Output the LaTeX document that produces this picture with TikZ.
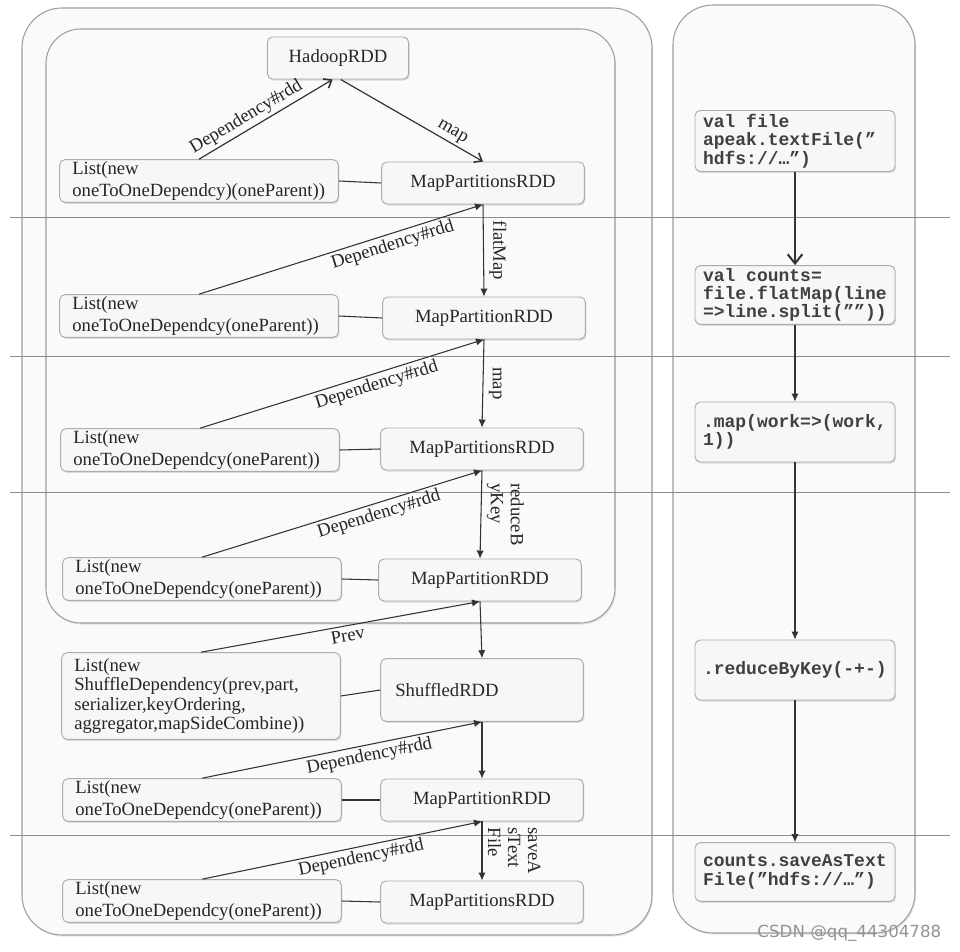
\documentclass[tikz,border=0pt]{standalone}
\usepackage{fontspec}
\setmainfont{Liberation Serif}
\setmonofont{Liberation Mono}
\newfontfamily\wmfont{DejaVu Sans}
\usepackage{tikz}
\usetikzlibrary{arrows.meta,shadows}
\newcommand{\tsp}{\hphantom{x}}

\begin{document}
\begin{tikzpicture}[x=0.75pt, y=-0.75pt,
    wrap/.style={draw=gray!75, fill=gray!4, line width=0.8pt, drop shadow={shadow xshift=0.8pt, shadow yshift=-1.2pt, opacity=0.2}},
    sep/.style={draw=gray!90, line width=0.6pt},
    box/.style={draw=gray!65, fill=gray!6, text=black!85, rounded corners=4pt, line width=0.7pt, drop shadow={shadow xshift=0.8pt, shadow yshift=-1.2pt, opacity=0.25}},
    lst/.style={box, text width=190pt, inner xsep=9.5pt, inner ysep=1.5pt, minimum height=32pt, align=left, font=\fontsize{14}{16}\selectfont},
    rdd/.style={box, minimum width=152pt, minimum height=31.5pt, font=\fontsize{14}{16}\selectfont},
    code/.style={box, text=black!75, text width=138pt, inner xsep=6pt, inner ysep=2pt, align=left, font=\fontsize{13.5}{13.75}\selectfont\ttfamily\bfseries},
    dep/.style={-{Latex[length=6pt,width=5.5pt]}, draw=black!80, line width=0.8pt},
    vdep/.style={-{Straight Barb[length=5pt,width=8pt,line width=1.2pt]}, draw=black!80, line width=0.9pt},
    lbl/.style={font=\fontsize{14}{15}\selectfont, text=black!85, inner sep=2pt},
    rot/.style={lbl, rotate=-90, anchor=south, align=left, inner sep=4pt}]
  \useasboundingbox (0,0) rectangle (960,952);
  \fill[white] (0,0) rectangle (960,952);

  \draw[wrap, rounded corners=30pt] (22,8) rectangle (652,935);
  \draw[wrap, rounded corners=26pt] (46,29) rectangle (615,623);
  \draw[wrap, rounded corners=30pt] (673,5) rectangle (915,933);
  \foreach \y in {217,356,492,835}
    \draw[sep] (10,\y) -- (950,\y);

  \node[rdd, minimum width=106pt] (h) at (338,58) {HadoopRDD};
  \node[lst] (l1) at (199,181) {List(new\\oneToOneDependcy)(oneParent))};
  \node[rdd] (m1) at (483,183) {MapPartitionsRDD};
  \node[lst] (l2) at (199,316) {List(new\\oneToOneDependcy(oneParent))};
  \node[rdd] (m2) at (484,318) {MapPartitionRDD};
  \node[lst] (l3) at (200,450) {List(new\\oneToOneDependcy(oneParent))};
  \node[rdd] (m3) at (482,449) {MapPartitionsRDD};
  \node[lst] (l4) at (202,579) {List(new\\oneToOneDependcy(oneParent))};
  \node[rdd] (m4) at (480,580) {MapPartitionRDD};
  \node[lst, minimum height=65pt, font=\fontsize{14}{14.5}\selectfont] (l5) at (201,696)
    {List(new\\ShuffleDependency(prev,part,\\serializer,keyOrdering,\\aggregator,mapSideCombine))};
  \node[rdd, text width=130pt, inner xsep=11pt, align=left, minimum height=47pt] (s) at (482,690) {ShuffledRDD};
  \node[lst] (l6) at (202,800) {List(new\\oneToOneDependcy(oneParent))};
  \node[rdd] (m6) at (482,800) {MapPartitionRDD};
  \node[lst] (l7) at (202,901) {List(new\\oneToOneDependcy(oneParent))};
  \node[rdd] (m7) at (482,902) {MapPartitionsRDD};

  \node[code, minimum height=45.75pt] (c1) at (795,141) {val\tsp file\\apeak.textFile(”\\hdfs://…”)};
  \node[code, minimum height=42pt] (c2) at (795,295) {val\tsp counts=\\file.flatMap(line\\=>line.split(””))};
  \node[code, minimum height=45pt] (c3) at (795,432) {.map(work=>(work,\\1))};
  \node[code, minimum height=45pt] (c4) at (795,670) {.reduceByKey(-+-)};
  \node[code, minimum height=44pt] (c5) at (795,872) {counts.saveAsText\\File(”hdfs://…”)};

  \draw[vdep] (l1.north) -- node[lbl, above, sloped, pos=0.4] {Dependency\#rdd} ([xshift=-4pt]h.south);
  \draw[vdep] ([xshift=2pt]h.south) -- node[lbl, above, sloped, pos=0.75] {map} (m1.north);
  \draw[dep] (l2.north) -- node[lbl, below, sloped, pos=0.67] {Dependency\#rdd} (m1.south);
  \draw[dep] (l3.north) -- node[lbl, below, sloped, pos=0.61] {Dependency\#rdd} (m2.south);
  \draw[dep] (l4.north) -- node[lbl, below, sloped, pos=0.62] {Dependency\#rdd} (m3.south);
  \draw[dep] (l5.north) -- node[lbl, below, sloped, pos=0.52] {Prev} (m4.south);
  \draw[dep] (l6.north) -- node[lbl, below, sloped, pos=0.59] {Dependency\#rdd} (s.south);
  \draw[dep] (l7.north) -- node[lbl, below, sloped, pos=0.56] {Dependency\#rdd} (m6.south);

  \draw[dep] (m1.south) -- node[rot] {flatMap} (m2.north);
  \draw[dep] (m2.south) -- node[rot] {map} (m3.north);
  \draw[dep] (m3.south) -- node[rot] {reduceB\\yKey} (m4.north);
  \draw[dep] (m4.south) -- (s.north);
  \draw[dep] (s.south) -- (m6.north);
  \draw[dep] (m6.south) -- node[rot] {saveA\\sText\\File} (m7.north);

  \foreach \a/\b in {l1/m1,l2/m2,l3/m3,l4/m4,l5/s,l6/m6,l7/m7}
    \draw[draw=black!80, line width=0.8pt] (\a.east) -- (\b.west);

  \draw[-{Straight Barb[length=7pt,width=11pt,line width=1.5pt]}, draw=black!80, line width=0.9pt] (c1.south) -- (c2.north);
  \draw[dep] (c2.south) -- (c3.north);
  \draw[dep] (c3.south) -- (c4.north);
  \draw[dep] (c4.south) -- (c5.north);

  \node[font=\wmfont\fontsize{12.5}{13}\selectfont, text=gray!85, anchor=east] (wm) at (946,933) {CSDN @qq\_44304788};
\end{tikzpicture}
\end{document}
